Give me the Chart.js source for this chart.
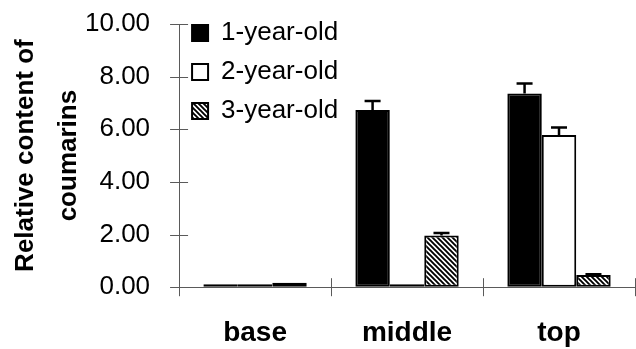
<!DOCTYPE html>
<html>
<head>
<meta charset="utf-8">
<script src="https://cdn.jsdelivr.net/npm/chart.js@4"></script>
<style>
  html, body { margin: 0; padding: 0; background: #fff; }
  #wrap { width: 636px; height: 349px; }
</style>
</head>
<body>
<div id="wrap"><canvas id="chart" width="636" height="349"></canvas></div>
<script>
// Categories and series values
const categories = ["base", "middle", "top"];
const seriesNames = ["1-year-old", "2-year-old", "3-year-old"];
const oneYear = [0.06, 6.73, 7.36];
const twoYear = [0.05, 0.03, 5.78];
const threeYear = [0.17, 1.96, 0.46];
// upper error bar lengths (0 = none visible)
const oneYearErr = [0, 0.34, 0.38];
const twoYearErr = [0, 0, 0.29];
const threeYearErr = [0, 0.10, 0.03];
// y axis range
const yMin = 0, yMax = 10, yStep = 2;

const FONT = "'Liberation Sans', Arial, sans-serif";
const AXIS = "#5a5a5a";
const TICK = 9; // half length of the crossing tick marks

// diagonal hatch for the 3-year-old series
function makeHatch() {
  const c = document.createElement("canvas");
  c.width = 5; c.height = 5;
  const g = c.getContext("2d");
  g.fillStyle = "#fff";
  g.fillRect(0, 0, 5, 5);
  g.strokeStyle = "#000";
  g.lineWidth = 1.9;
  g.beginPath();
  g.moveTo(-2, -2); g.lineTo(7, 7);
  g.moveTo(-2, 3); g.lineTo(2, 7);
  g.moveTo(3, -2); g.lineTo(7, 2);
  g.stroke();
  return g.createPattern(c, "repeat");
}

// error bars drawn from the bar elements and the y scale
const errorBars = {
  id: "errorBars",
  afterDatasetsDraw(chart) {
    const ctx = chart.ctx;
    const y = chart.scales.y;
    ctx.save();
    ctx.strokeStyle = "#000";
    ctx.lineWidth = 2.5;
    chart.data.datasets.forEach((ds, i) => {
      const meta = chart.getDatasetMeta(i);
      meta.data.forEach((bar, j) => {
        if (!ds.errors[j]) return;
        const v = ds.data[j];
        const top = y.getPixelForValue(v + ds.errors[j]);
        const base = y.getPixelForValue(v);
        ctx.beginPath();
        ctx.moveTo(bar.x, base);
        ctx.lineTo(bar.x, top);
        ctx.moveTo(bar.x - 8, top);
        ctx.lineTo(bar.x + 8, top);
        ctx.stroke();
      });
    });
    ctx.restore();
  }
};

// "cross" tick marks on both axes
const crossTicks = {
  id: "crossTicks",
  afterDraw(chart) {
    const ctx = chart.ctx;
    const x = chart.scales.x, y = chart.scales.y;
    ctx.save();
    ctx.strokeStyle = AXIS;
    ctx.lineWidth = 1;
    ctx.beginPath();
    y.ticks.forEach(t => {
      const py = Math.round(y.getPixelForValue(t.value)) + 0.5;
      ctx.moveTo(x.left - TICK, py);
      ctx.lineTo(x.left + TICK, py);
    });
    for (let i = 0; i <= categories.length; i++) {
      const px = Math.round(x.getPixelForValue(i - 0.5)) + 0.5;
      ctx.moveTo(px, y.bottom + TICK);
      ctx.lineTo(px, y.bottom - TICK);
    }
    ctx.stroke();
    ctx.restore();
  }
};

// put the in-plot legend at the top left of the plot area
const legendShift = {
  id: "legendShift",
  afterLayout(chart) {
    const lg = chart.legend;
    if (!lg) return;
    const h = lg.bottom - lg.top;
    lg.top = chart.chartArea.top - 17;
    lg.bottom = lg.top + h;
  }
};

const hatch = makeHatch();

new Chart(document.getElementById("chart"), {
  type: "bar",
  data: {
    labels: categories,
    datasets: [
      { label: seriesNames[0], data: oneYear, errors: oneYearErr, backgroundColor: "#000", borderColor: "#000", borderWidth: 2 },
      { label: seriesNames[1], data: twoYear, errors: twoYearErr, backgroundColor: "#fff", borderColor: "#000", borderWidth: 2 },
      { label: seriesNames[2], data: threeYear, errors: threeYearErr, backgroundColor: hatch, borderColor: "#000", borderWidth: 2 }
    ]
  },
  options: {
    responsive: false,
    animation: false,
    devicePixelRatio: 1,
    layout: { padding: { top: 24, right: 1, left: 0, bottom: 0 } },
    datasets: {
      bar: { categoryPercentage: 0.68, barPercentage: 1.0, borderSkipped: false, minBarLength: 3 }
    },
    plugins: {
      legend: {
        position: "chartArea",
        align: "start",
        labels: {
          boxWidth: 16,
          boxHeight: 16,
          padding: 13,
          color: "#000",
          font: { family: FONT, size: 26 }
        }
      },
      tooltip: { enabled: false }
    },
    scales: {
      x: {
        grid: { drawOnChartArea: false, drawTicks: true, tickLength: 31, tickColor: "rgba(0,0,0,0)" },
        border: { color: AXIS, width: 1 },
        ticks: {
          color: "#000",
          padding: 0,
          font: { family: FONT, size: 28, weight: "bold", lineHeight: 1.1 }
        }
      },
      y: {
        min: yMin,
        max: yMax,
        grid: { drawOnChartArea: false, drawTicks: true, tickLength: 29, tickColor: "rgba(0,0,0,0)" },
        border: { color: AXIS, width: 1 },
        ticks: {
          stepSize: yStep,
          color: "#000",
          padding: 0,
          font: { family: FONT, size: 26 },
          callback: v => v.toFixed(2)
        },
        title: {
          display: true,
          text: ["Relative content of", "coumarins"],
          color: "#000",
          padding: { top: 4.5, bottom: -5.5 },
          font: { family: FONT, size: 26, weight: "bold", lineHeight: 1.654 }
        }
      }
    }
  },
  plugins: [errorBars, crossTicks, legendShift]
});
</script>
</body>
</html>
